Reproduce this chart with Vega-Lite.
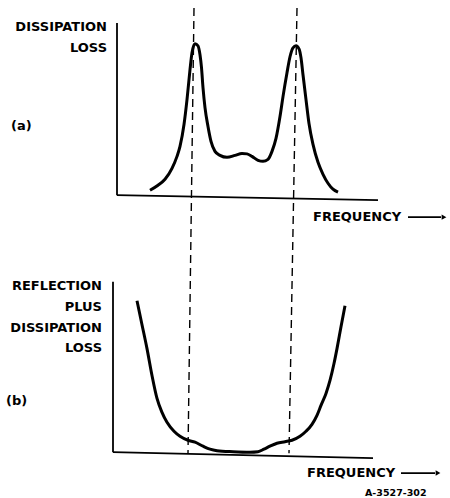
{
  "$schema": "https://vega.github.io/schema/vega-lite/v6.json",
  "width": 450,
  "height": 498,
  "padding": 0,
  "autosize": {"type": "fit", "contains": "padding"},
  "background": "white",
  "config": {"view": {"stroke": null}},
  "datasets": {
    "curves": [
      {"panel": "a", "x": 150, "y": 191}, {"panel": "a", "x": 158, "y": 186}, {"panel": "a", "x": 165, "y": 180},
      {"panel": "a", "x": 172, "y": 169}, {"panel": "a", "x": 177, "y": 157}, {"panel": "a", "x": 180, "y": 147},
      {"panel": "a", "x": 184, "y": 125}, {"panel": "a", "x": 187, "y": 100}, {"panel": "a", "x": 190, "y": 70},
      {"panel": "a", "x": 192, "y": 53}, {"panel": "a", "x": 195, "y": 44}, {"panel": "a", "x": 198, "y": 46},
      {"panel": "a", "x": 200, "y": 55}, {"panel": "a", "x": 201.5, "y": 68}, {"panel": "a", "x": 203, "y": 88},
      {"panel": "a", "x": 205, "y": 108}, {"panel": "a", "x": 208, "y": 127}, {"panel": "a", "x": 211, "y": 142},
      {"panel": "a", "x": 215, "y": 152}, {"panel": "a", "x": 220, "y": 156}, {"panel": "a", "x": 227, "y": 158},
      {"panel": "a", "x": 235, "y": 156}, {"panel": "a", "x": 242, "y": 154}, {"panel": "a", "x": 247, "y": 154.5},
      {"panel": "a", "x": 252, "y": 157}, {"panel": "a", "x": 258, "y": 161}, {"panel": "a", "x": 263, "y": 162},
      {"panel": "a", "x": 268, "y": 160}, {"panel": "a", "x": 272, "y": 152}, {"panel": "a", "x": 276, "y": 139},
      {"panel": "a", "x": 280, "y": 117}, {"panel": "a", "x": 283, "y": 97}, {"panel": "a", "x": 287, "y": 73},
      {"panel": "a", "x": 290, "y": 57}, {"panel": "a", "x": 293, "y": 48}, {"panel": "a", "x": 296, "y": 46},
      {"panel": "a", "x": 299, "y": 49}, {"panel": "a", "x": 301, "y": 58}, {"panel": "a", "x": 303, "y": 75},
      {"panel": "a", "x": 306, "y": 100}, {"panel": "a", "x": 309, "y": 124}, {"panel": "a", "x": 313, "y": 145},
      {"panel": "a", "x": 318, "y": 163}, {"panel": "a", "x": 323, "y": 175}, {"panel": "a", "x": 328, "y": 184},
      {"panel": "a", "x": 333, "y": 190}, {"panel": "a", "x": 338, "y": 193},
      {"panel": "b", "x": 137, "y": 302}, {"panel": "b", "x": 142, "y": 326}, {"panel": "b", "x": 147, "y": 350},
      {"panel": "b", "x": 152, "y": 377}, {"panel": "b", "x": 157, "y": 400}, {"panel": "b", "x": 162, "y": 414},
      {"panel": "b", "x": 167, "y": 424}, {"panel": "b", "x": 174, "y": 433}, {"panel": "b", "x": 180, "y": 438},
      {"panel": "b", "x": 188, "y": 442}, {"panel": "b", "x": 195, "y": 444}, {"panel": "b", "x": 203, "y": 448},
      {"panel": "b", "x": 210, "y": 451}, {"panel": "b", "x": 217, "y": 452.5}, {"panel": "b", "x": 233, "y": 453.5},
      {"panel": "b", "x": 250, "y": 454}, {"panel": "b", "x": 258, "y": 453.5}, {"panel": "b", "x": 264, "y": 451},
      {"panel": "b", "x": 270, "y": 448}, {"panel": "b", "x": 277, "y": 445}, {"panel": "b", "x": 285, "y": 443.5},
      {"panel": "b", "x": 292, "y": 442}, {"panel": "b", "x": 300, "y": 438}, {"panel": "b", "x": 306, "y": 433},
      {"panel": "b", "x": 312, "y": 426}, {"panel": "b", "x": 317, "y": 417}, {"panel": "b", "x": 321, "y": 407},
      {"panel": "b", "x": 326, "y": 395}, {"panel": "b", "x": 330, "y": 382}, {"panel": "b", "x": 334, "y": 365},
      {"panel": "b", "x": 337, "y": 350}, {"panel": "b", "x": 341, "y": 328}, {"panel": "b", "x": 345, "y": 307}
    ],
    "axes": [
      {"x": 117, "y": 23, "x2": 117, "y2": 196},
      {"x": 117, "y": 196, "x2": 378, "y2": 201},
      {"x": 113, "y": 283, "x2": 113, "y2": 454},
      {"x": 113, "y": 454, "x2": 373, "y2": 460},
      {"x": 408, "y": 218, "x2": 441, "y2": 218},
      {"x": 401, "y": 475, "x2": 435, "y2": 475}
    ],
    "heads": [
      {"x": 444, "y": 218},
      {"x": 438, "y": 475}
    ],
    "dashes": [
      {"x": 194, "y": 8, "x2": 188, "y2": 455},
      {"x": 297, "y": 8, "x2": 289, "y2": 455}
    ],
    "rlabels": [
      {"x": 107, "y": 27, "label": "DISSIPATION"},
      {"x": 107, "y": 48, "label": "LOSS"},
      {"x": 102, "y": 287, "label": "REFLECTION"},
      {"x": 102, "y": 308, "label": "PLUS"},
      {"x": 102, "y": 329, "label": "DISSIPATION"},
      {"x": 102, "y": 349, "label": "LOSS"}
    ],
    "llabels": [
      {"x": 11, "y": 127, "label": "(a)"},
      {"x": 6, "y": 403, "label": "(b)"},
      {"x": 313, "y": 218, "label": "FREQUENCY"},
      {"x": 307, "y": 475, "label": "FREQUENCY"}
    ],
    "note": [
      {"x": 365, "y": 495, "label": "A-3527-302"}
    ]
  },
  "layer": [
    {
      "data": {"name": "dashes"},
      "mark": {"type": "rule", "strokeDash": [8, 5], "strokeWidth": 1.4, "color": "black"},
      "encoding": {
        "x": {"field": "x", "type": "quantitative", "scale": {"domain": [0, 450]}, "axis": null},
        "y": {"field": "y", "type": "quantitative", "scale": {"domain": [0, 498], "reverse": true}, "axis": null},
        "x2": {"field": "x2"},
        "y2": {"field": "y2"}
      }
    },
    {
      "data": {"name": "axes"},
      "mark": {"type": "rule", "strokeWidth": 1.8, "color": "black"},
      "encoding": {
        "x": {"field": "x", "type": "quantitative"},
        "y": {"field": "y", "type": "quantitative"},
        "x2": {"field": "x2"},
        "y2": {"field": "y2"}
      }
    },
    {
      "data": {"name": "heads"},
      "mark": {"type": "point", "shape": "triangle-right", "filled": true, "size": 30, "color": "black", "opacity": 1},
      "encoding": {
        "x": {"field": "x", "type": "quantitative"},
        "y": {"field": "y", "type": "quantitative"}
      }
    },
    {
      "data": {"name": "curves"},
      "mark": {"type": "line", "strokeWidth": 3, "color": "black", "interpolate": "monotone"},
      "encoding": {
        "x": {"field": "x", "type": "quantitative"},
        "y": {"field": "y", "type": "quantitative"},
        "detail": {"field": "panel"}
      }
    },
    {
      "data": {"name": "rlabels"},
      "mark": {"type": "text", "align": "right", "baseline": "middle", "font": "DejaVu Sans", "fontWeight": "bold", "fontSize": 13, "color": "black"},
      "encoding": {
        "x": {"field": "x", "type": "quantitative"},
        "y": {"field": "y", "type": "quantitative"},
        "text": {"field": "label"}
      }
    },
    {
      "data": {"name": "llabels"},
      "mark": {"type": "text", "align": "left", "baseline": "middle", "font": "DejaVu Sans", "fontWeight": "bold", "fontSize": 13, "color": "black"},
      "encoding": {
        "x": {"field": "x", "type": "quantitative"},
        "y": {"field": "y", "type": "quantitative"},
        "text": {"field": "label"}
      }
    },
    {
      "data": {"name": "note"},
      "mark": {"type": "text", "align": "left", "baseline": "middle", "font": "DejaVu Sans", "fontWeight": "bold", "fontSize": 9.5, "color": "black"},
      "encoding": {
        "x": {"field": "x", "type": "quantitative"},
        "y": {"field": "y", "type": "quantitative"},
        "text": {"field": "label"}
      }
    }
  ]
}
